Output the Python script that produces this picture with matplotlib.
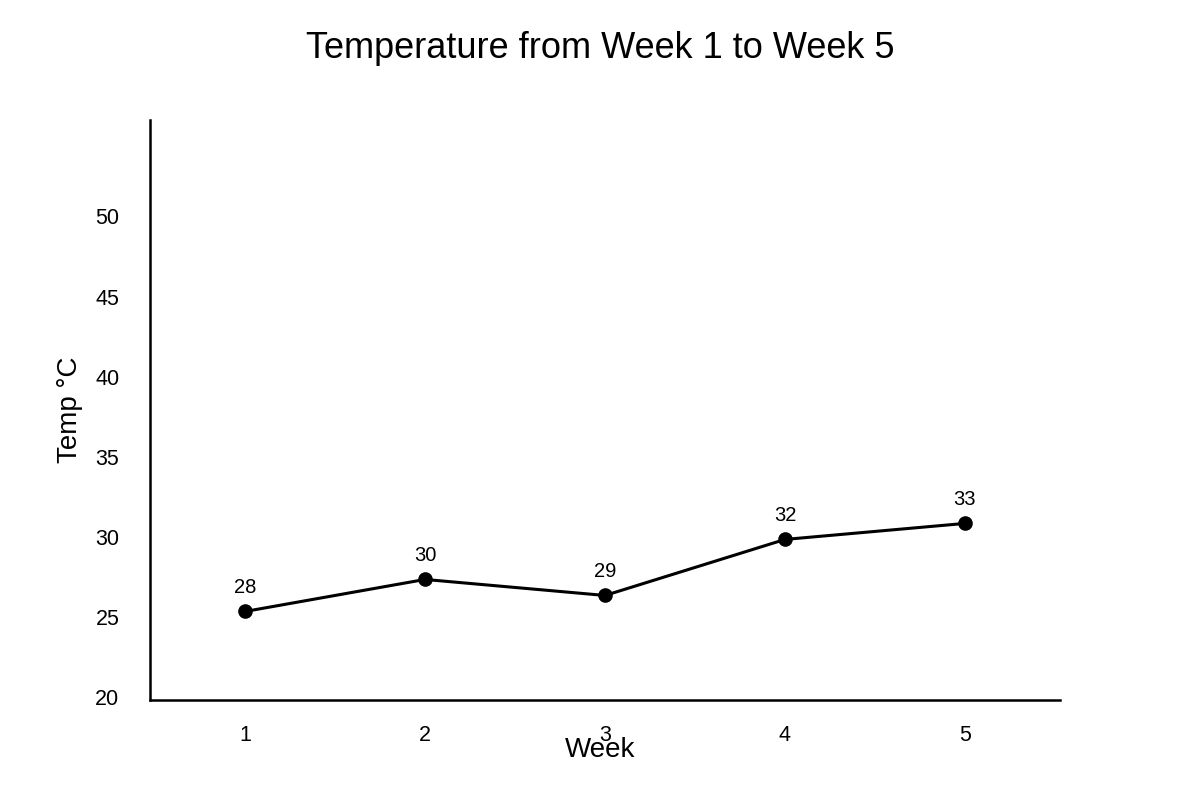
import matplotlib.pyplot as plt
import matplotlib.transforms as mtransforms

plt.rcParams['font.family'] = ['Liberation Sans', 'DejaVu Sans']

weeks = [1, 2, 3, 4, 5]
temps = [25.5, 27.5, 26.5, 30.0, 31.0]
point_labels = ["28", "30", "29", "32", "33"]
y_ticks = [20, 25, 30, 35, 40, 45, 50]

fig = plt.figure(figsize=(12, 8), dpi=100)
ax = fig.add_axes([0.125, 0.1256, 0.7583, 0.7244])

ax.plot(weeks, temps, color="black", linewidth=2.2, marker="o", markersize=9.5)
for x, y, lab in zip(weeks, temps, point_labels):
    ax.annotate(lab, (x, y), xytext=(0, 17), textcoords="offset points",
                ha="center", va="center", fontsize=14.5)

ax.set_xlim(0.472, 5.528)
ax.set_ylim(20, 56.2)
ax.set_xticks(weeks)
ax.set_yticks(y_ticks)
ax.tick_params(axis="both", length=0, labelsize=15.5)
ax.tick_params(axis="x", pad=18)
ax.tick_params(axis="y", pad=22)

# y labels sit a touch above their gridline in the original
shift = mtransforms.ScaledTranslation(0, 2 / 72, fig.dpi_scale_trans)
for t in ax.get_yticklabels():
    t.set_transform(t.get_transform() + shift)

for s in ["top", "right"]:
    ax.spines[s].set_visible(False)
for s in ["left", "bottom"]:
    ax.spines[s].set_linewidth(1.8)

ax.set_xlabel("Week", fontsize=20)
ax.set_ylabel("Temp °C", fontsize=20)
ax.xaxis.set_label_coords(0.4945, -0.087)
ax.xaxis.label.set_va("center")
ax.yaxis.set_label_coords(-0.088, 0.5)
ax.yaxis.label.set_va("center")

fig.text(0.5, 1 - 48 / 800, "Temperature from Week 1 to Week 5",
         ha="center", va="center", fontsize=26)

fig.savefig("out.png", dpi=100)
